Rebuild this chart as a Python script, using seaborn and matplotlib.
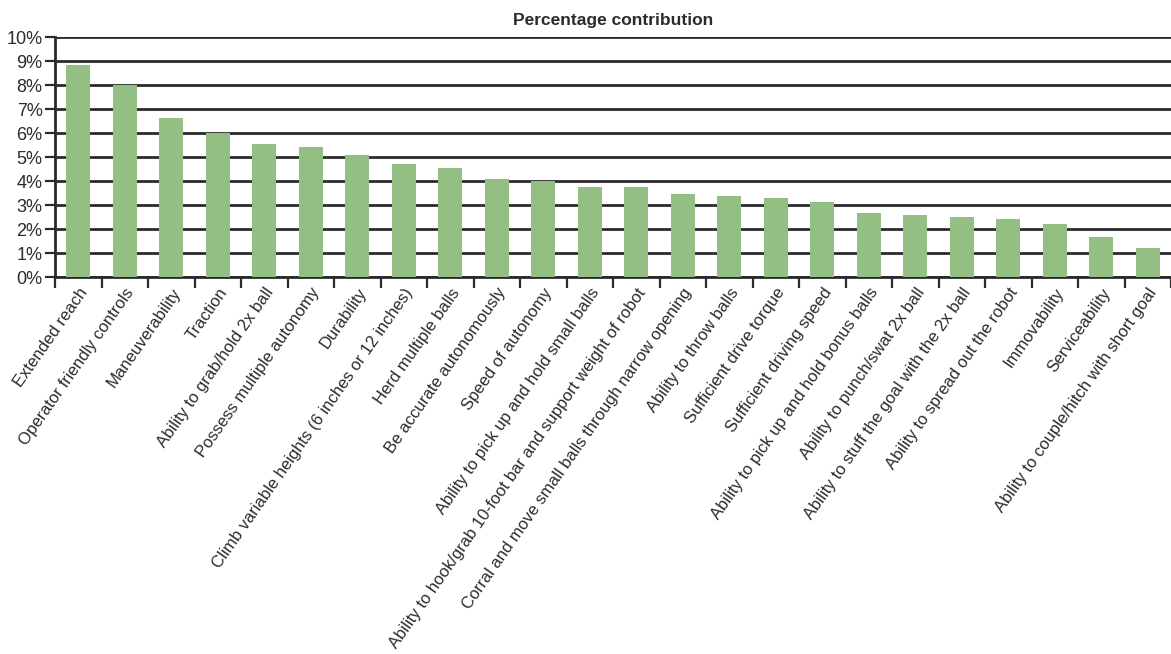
import numpy as np
import pandas as pd
import matplotlib
matplotlib.use("Agg")
import matplotlib.pyplot as plt
import seaborn as sns
from matplotlib.ticker import FixedLocator, PercentFormatter

# Attributes and their percentage contribution
attributes = [
    "Extended reach",
    "Operator friendly controls",
    "Maneuverability",
    "Traction",
    "Ability to grab/hold 2x ball",
    "Possess multiple autonomy",
    "Durability",
    "Climb variable heights (6 inches or 12 inches)",
    "Herd multiple balls",
    "Be accurate autonomously",
    "Speed of autonomy",
    "Ability to pick up and hold small balls",
    "Ability to hook/grab 10-foot bar and support weight of robot",
    "Corral and move small balls through narrow opening",
    "Ability to throw balls",
    "Sufficient drive torque",
    "Sufficient driving speed",
    "Ability to pick up and hold bonus balls",
    "Ability to punch/swat 2x ball",
    "Ability to stuff the goal with the 2x ball",
    "Ability to spread out the robot",
    "Immovability",
    "Serviceability",
    "Ability to couple/hitch with short goal",
]
contribution = [8.83, 8.01, 6.63, 6.02, 5.55, 5.42, 5.09, 4.71, 4.54, 4.08,
                4.01, 3.75, 3.75, 3.46, 3.37, 3.29, 3.12, 2.66, 2.58, 2.49,
                2.41, 2.20, 1.66, 1.20]
y_ticks = list(range(0, 11))

df = pd.DataFrame({"attribute": attributes, "pct": contribution})

sns.set_style("white")
plt.rcParams["font.family"] = ["Liberation Sans", "DejaVu Sans"]

fig = plt.figure(figsize=(11.71, 6.54), dpi=100)
ax = fig.add_axes([55 / 1171, 1 - 277 / 654, 1 - 55 / 1171, 240 / 654])

sns.barplot(data=df, x="attribute", y="pct", color="#93BF85", width=0.52,
            saturation=1, linewidth=0, ax=ax, zorder=3)

ax.set_ylim(0, 10)
ax.set_xlim(-0.5, len(attributes) - 0.5)
ax.yaxis.set_major_locator(FixedLocator(y_ticks))
ax.yaxis.set_major_formatter(PercentFormatter(decimals=0))
ax.grid(axis="y", color="#2b2b2b", linewidth=2, zorder=0)
ax.set_axisbelow(True)

# tick marks sit on the category boundaries, labels on the bar centres
ax.xaxis.set_minor_locator(FixedLocator(np.arange(-0.5, len(attributes), 1)))
ax.tick_params(axis="x", which="minor", length=8, width=1.6, color="#2b2b2b",
               direction="out", bottom=True)
ax.tick_params(axis="x", which="major", length=0, pad=6)
ax.tick_params(axis="y", length=7, width=1.6, color="#2b2b2b", direction="out",
               left=True, labelsize=13, labelcolor="#2b2b2b", pad=2)
ax.set_xticks(range(len(attributes)))
ax.set_xticklabels(attributes, rotation=55, ha="right", rotation_mode="anchor",
                   fontsize=12, color="#2b2b2b")

for side in ["top", "right"]:
    ax.spines[side].set_visible(False)
ax.spines["left"].set_color("#2b2b2b")
ax.spines["left"].set_linewidth(2)
ax.spines["bottom"].set_color("#2b2b2b")
ax.spines["bottom"].set_linewidth(2)

ax.set_xlabel("")
ax.set_ylabel("")
ax.set_title("Percentage contribution", fontsize=12.5, fontweight="bold",
             color="#2b2b2b", pad=9)

fig.savefig("out.png", dpi=100)
